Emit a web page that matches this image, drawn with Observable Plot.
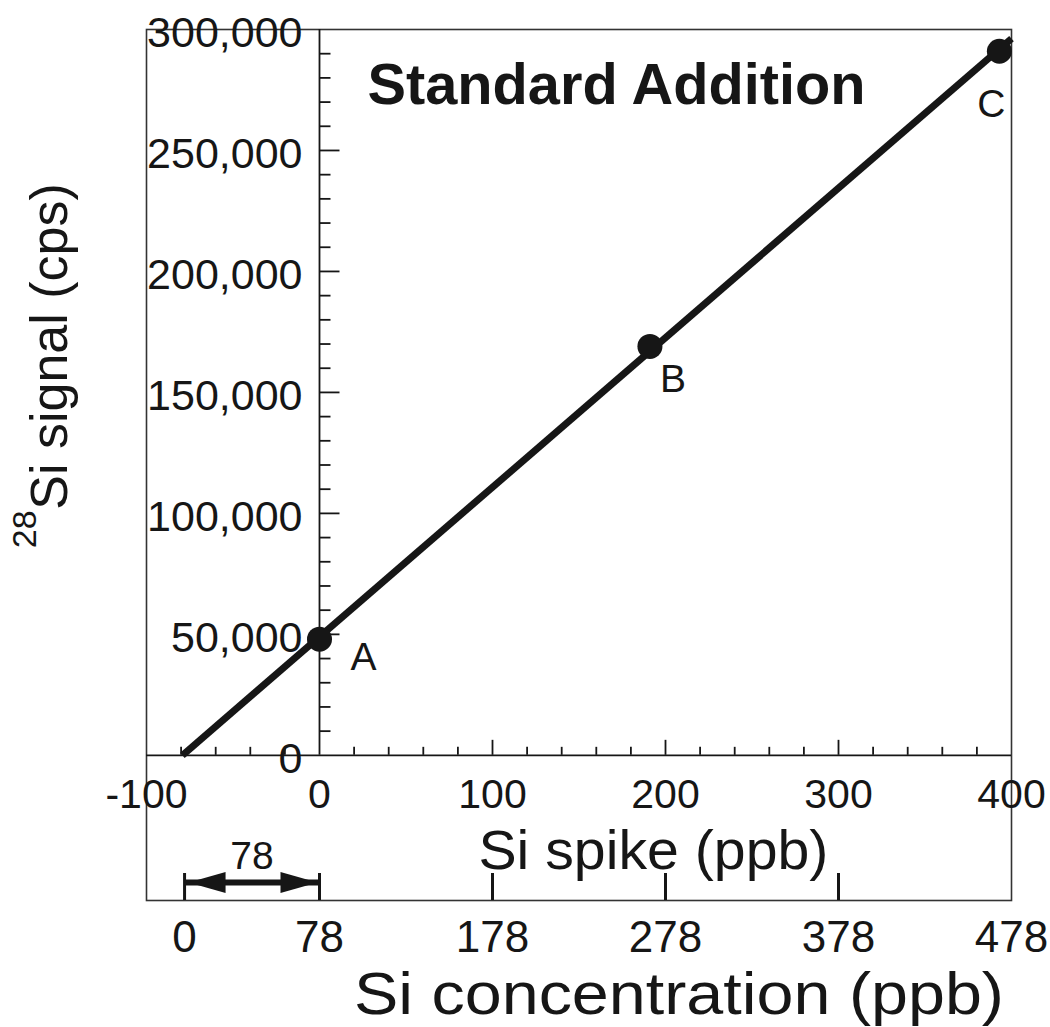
<!DOCTYPE html>
<html>
<head>
<meta charset="utf-8">
<script src="https://cdn.jsdelivr.net/npm/d3@7"></script>
<script src="https://cdn.jsdelivr.net/npm/@observablehq/plot@0.6"></script>
<style>
  html, body { margin: 0; padding: 0; background: #ffffff; }
  #chart svg { font-family: "Liberation Sans", Arial, Helvetica, sans-serif; display: block; }
</style>
</head>
<body>
<div id="chart"></div>
<script>
// ---- data ----
const pointLabels = ["A", "B", "C"];
const spikePpb   = [0, 191, 393];          // Si spike added (ppb)
const signalCps  = [48000, 169000, 291000]; // 28Si signal (cps)
const blankConc  = 78;                      // x-intercept magnitude (ppb)

const xTickValues = [-100, 0, 100, 200, 300, 400];
const xTickLabels = ["-100", "0", "100", "200", "300", "400"];
const yTickValues = [0, 50000, 100000, 150000, 200000, 250000, 300000];
const yTickLabels = ["0", "50,000", "100,000", "150,000", "200,000", "250,000", "300,000"];
const concTickValues = [0, 78, 178, 278, 378, 478];
const concTickLabels = ["0", "78", "178", "278", "378", "478"];

// ---- layout ----
const W = 1050, H = 1027;
const mL = 146, mR = 39, mT = 29, mB = 127;
const xDomain = [-100, 400];
const yDomain = [-60000, 300000];
const pxX = (W - mL - mR) / (xDomain[1] - xDomain[0]);
const pxY = (H - mT - mB) / (yDomain[1] - yDomain[0]);
const ink = "#161616";

// tables built from the arrays
const points = pointLabels.map((label, i) => ({label, x: spikePpb[i], y: signalCps[i]}));

// least squares fit through the measured points
const mx = d3.mean(spikePpb), my = d3.mean(signalCps);
const slope = d3.sum(spikePpb, (x, i) => (x - mx) * (signalCps[i] - my)) / d3.sum(spikePpb, x => (x - mx) ** 2);
const intercept = my - slope * mx;
const fitLine = [
  {x: -intercept / slope, y: 0},
  {x: xDomain[1], y: intercept + slope * xDomain[1]}
];

// minor / major ticks
const xMinor = d3.range(-80, 400, 20).filter(v => v % 100 !== 0);
const xMajor = [100, 200, 300];
const yMinor = d3.range(10000, 300000, 10000).filter(v => v % 50000 !== 0);
const yMajor = [50000, 100000, 150000, 200000, 250000];

const concTable = concTickValues.map((c, i) => ({x: c - blankConc, label: concTickLabels[i], c}));

const labelOffsets = {A: [44, 18], B: [23, 33], C: [-8, 53]};

const headLeft = {draw(ctx) { ctx.moveTo(0, 0); ctx.lineTo(37, -10.5); ctx.lineTo(37, 10.5); ctx.closePath(); }};
const headRight = {draw(ctx) { ctx.moveTo(0, 0); ctx.lineTo(-37, -10.5); ctx.lineTo(-37, 10.5); ctx.closePath(); }};

const chart = Plot.plot({
  width: W, height: H,
  marginLeft: mL, marginRight: mR, marginTop: mT, marginBottom: mB,
  x: {domain: xDomain, axis: null},
  y: {domain: yDomain, axis: null},
  style: {background: "#ffffff", color: ink},
  marks: [
    Plot.frame({stroke: "#333", strokeWidth: 1.6}),
    // x axis line at y = 0
    Plot.ruleY([0], {stroke: ink, strokeWidth: 1.8}),
    // y axis line at x = 0
    Plot.ruleX([0], {y1: 0, y2: yDomain[1], stroke: ink, strokeWidth: 1.8}),
    // y ticks (pointing right)
    Plot.link(yMinor, {x1: 0, x2: 11 / pxX, y1: d => d, y2: d => d, stroke: ink, strokeWidth: 1.8}),
    Plot.link(yMajor, {x1: 0, x2: 20 / pxX, y1: d => d, y2: d => d, stroke: ink, strokeWidth: 1.8}),
    // x ticks (pointing up)
    Plot.ruleX(xMinor, {y1: 0, y2: 8 / pxY, stroke: ink, strokeWidth: 1.8}),
    Plot.ruleX(xMajor, {y1: 0, y2: 15 / pxY, stroke: ink, strokeWidth: 1.8}),
    // concentration axis ticks
    Plot.ruleX(concTable.filter(d => d.c < 478), {x: "x", y1: yDomain[0], y2: yDomain[0] + 27 / pxY, stroke: ink, strokeWidth: 3}),
    // fitted line and points
    Plot.line(fitLine, {x: "x", y: "y", stroke: ink, strokeWidth: 7, strokeLinecap: "butt"}),
    Plot.dot(points, {x: "x", y: "y", r: 12.5, fill: ink, stroke: null}),
    ...points.map(p => Plot.text([p], {x: "x", y: "y", text: "label", dx: labelOffsets[p.label][0], dy: labelOffsets[p.label][1], fontSize: 39, fill: ink})),
    // y tick labels
    Plot.text(yTickValues, {x: 0, y: d => d, text: (d, i) => yTickLabels[i], textAnchor: "end", dx: -17, dy: 4, fontSize: 43, fill: ink}),
    // x tick labels
    Plot.text(xTickValues, {x: d => d, y: 0, text: (d, i) => xTickLabels[i], dy: 40, fontSize: 41, fill: ink}),
    // concentration labels
    Plot.text(concTable, {x: "x", y: yDomain[0], text: "label", dy: 37, fontSize: 44, fill: ink}),
    // 78 double arrow
    Plot.ruleY([yDomain[0]], {x1: -blankConc, x2: 0, dy: -18, stroke: ink, strokeWidth: 6}),
    Plot.dot([-blankConc], {x: d => d, y: yDomain[0], symbol: headLeft, dx: 4, dy: -18, fill: ink, stroke: null}),
    Plot.dot([0], {x: d => d, y: yDomain[0], symbol: headRight, dx: -2, dy: -18, fill: ink, stroke: null}),
    Plot.text([String(blankConc)], {x: -blankConc / 2, y: yDomain[0], text: d => d, dy: -44, fontSize: 39, fill: ink}),
    // titles
    Plot.text(["Standard Addition"], {x: 171.7, y: 276900, text: d => d, fontSize: 57, fontWeight: "bold", fill: ink}),
    Plot.text(["Si spike (ppb)"], {x: 193, y: -39500, text: d => d, fontSize: 55, fill: ink}),
    Plot.text(["Si concentration (ppb)"], {x: 207.8, y: -99200, text: d => d, fontSize: 59, fill: ink}),
    Plot.text(["Si signal (cps)"], {x: -155.5, y: 169000, text: d => d, rotate: -90, fontSize: 52, fill: ink}),
    Plot.text(["28"], {x: -170, y: 93400, text: d => d, rotate: -90, fontSize: 34, fill: ink})
  ]
});

// the reference lettering is drawn slightly wider than the font: stretch to the measured lengths
const stretch = {"Si concentration (ppb)": 650, "Standard Addition": 498, "Si spike (ppb)": 350};
d3.select(chart).selectAll("text").each(function() {
  const t = this.textContent;
  if (stretch[t]) d3.select(this).attr("textLength", stretch[t]).attr("lengthAdjust", "spacingAndGlyphs");
});

document.getElementById("chart").appendChild(chart);
</script>
</body>
</html>
